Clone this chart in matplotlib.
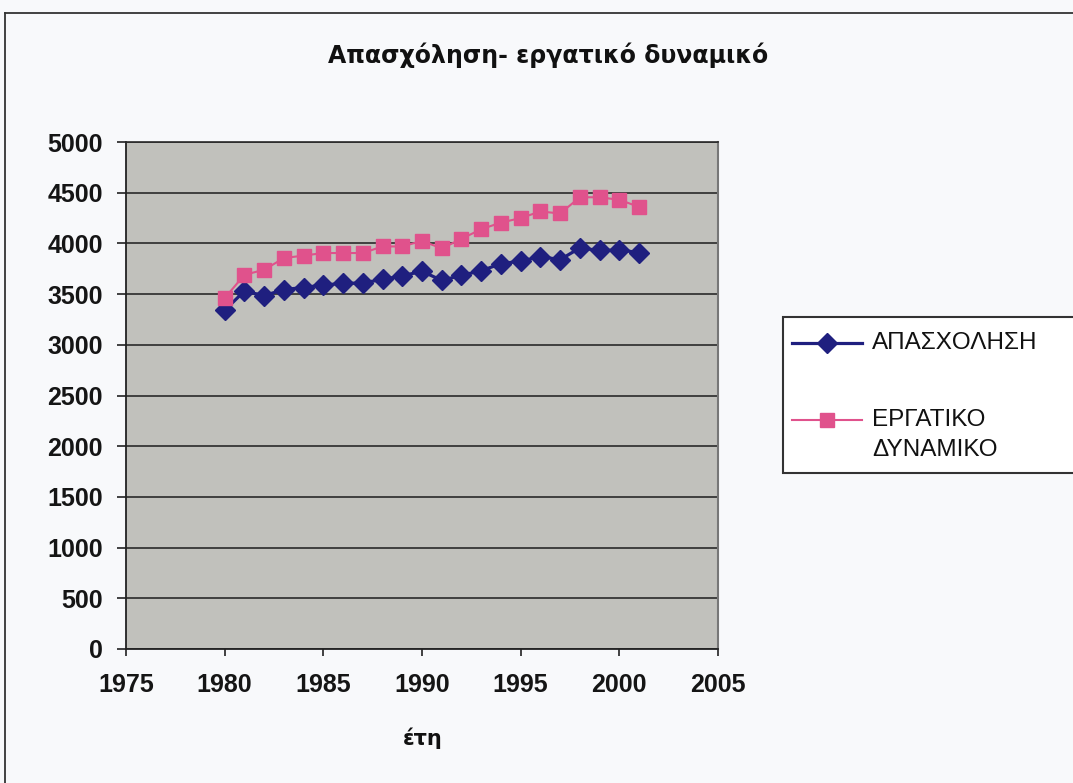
import matplotlib
matplotlib.use("Agg")
import matplotlib.pyplot as plt
from matplotlib.patches import Rectangle
from matplotlib.lines import Line2D

years = list(range(1980, 2002))
apasxolisi = [3340, 3530, 3485, 3545, 3565, 3590, 3605, 3610, 3645, 3680, 3725,
              3635, 3685, 3730, 3800, 3825, 3870, 3840, 3955, 3930, 3935, 3910]
ergatiko = [3460, 3690, 3740, 3855, 3880, 3905, 3905, 3905, 3970, 3970, 4025,
            3950, 4045, 4140, 4205, 4250, 4315, 4295, 4455, 4455, 4430, 4360]
series_names = ["ΑΠΑΣΧΟΛΗΣΗ", "ΕΡΓΑΤΙΚΟ\nΔΥΝΑΜΙΚΟ"]
x_ticks = [1975, 1980, 1985, 1990, 1995, 2000, 2005]
y_ticks = list(range(0, 5001, 500))
title = "Απασχόληση- εργατικό δυναμικό"
xlabel = "έτη"

W, H = 1073, 783


def fx(px):
    return px / W


def fy(py):
    return 1 - py / H


BLUE = "#1f1f7f"
PINK = "#e0528c"

fig = plt.figure(figsize=(W / 100, H / 100), dpi=100)
fig.patch.set_facecolor("#f8f9fb")

# outer frame (top and left edges visible)
fig.add_artist(Line2D([fx(5), 1], [fy(13), fy(13)], transform=fig.transFigure,
                      color="#333333", linewidth=1.3))
fig.add_artist(Line2D([fx(5), fx(5)], [fy(13), 0], transform=fig.transFigure,
                      color="#333333", linewidth=1.3))

ax = fig.add_axes([fx(126), fy(649), (718 - 126) / W, (649 - 142) / H])
ax.set_facecolor("#c1c1bc")
ax.plot(years, apasxolisi, color=BLUE, marker="D", markersize=10.5, linewidth=2.3)
ax.plot(years, ergatiko, color=PINK, marker="s", markersize=9.5, linewidth=1.5)
ax.set_xlim(1975, 2005)
ax.set_ylim(0, 5000)
ax.set_xticks(x_ticks)
ax.set_yticks(y_ticks)
ax.yaxis.grid(True, color="#2a2a2a", linewidth=1.2)
ax.set_axisbelow(True)
ax.spines["left"].set_color("#222222")
ax.spines["bottom"].set_color("#222222")
ax.spines["left"].set_linewidth(1.3)
ax.spines["bottom"].set_linewidth(1.3)
ax.spines["right"].set_color("#777777")
ax.spines["right"].set_linewidth(1.5)
ax.spines["top"].set_color("#2a2a2a")
ax.spines["top"].set_linewidth(1.2)
ax.tick_params(axis="y", length=6.5, width=1.2, color="#222222", pad=10, labelsize=18)
ax.tick_params(axis="x", length=5, width=1.2, color="#222222", pad=12, labelsize=18)
for lab in ax.get_xticklabels() + ax.get_yticklabels():
    lab.set_fontfamily("Liberation Sans")
    lab.set_fontweight("bold")
    lab.set_color("#151515")

fig.text(fx(423), fy(738), xlabel, ha="center", va="center",
         fontsize=15, fontweight="bold", family="DejaVu Sans", color="#111111")
fig.text(fx(548), fy(55), title, ha="center", va="center",
         fontsize=17, fontweight="bold", family="DejaVu Sans", color="#111111")

# legend box (extends past the right edge of the picture)
fig.add_artist(Rectangle((fx(783), fy(473)), (1100 - 783) / W, (473 - 317) / H,
                         transform=fig.transFigure, facecolor="white",
                         edgecolor="#333333", linewidth=1.5))
fig.add_artist(Line2D([fx(792), fx(862)], [fy(343), fy(343)], transform=fig.transFigure,
                      color=BLUE, linewidth=2.3))
fig.add_artist(Line2D([fx(827)], [fy(343)], transform=fig.transFigure, color=BLUE,
                      marker="D", markersize=10.5, linestyle="none"))
fig.add_artist(Line2D([fx(792), fx(862)], [fy(420), fy(420)], transform=fig.transFigure,
                      color=PINK, linewidth=1.5))
fig.add_artist(Line2D([fx(827)], [fy(420)], transform=fig.transFigure, color=PINK,
                      marker="s", markersize=9.5, linestyle="none"))
fig.text(fx(872), fy(343), series_names[0], ha="left", va="center",
         fontsize=17.5, family="Liberation Sans", color="#111111")
fig.text(fx(872), fy(409), series_names[1], ha="left", va="top",
         fontsize=17.5, family="Liberation Sans", color="#111111", linespacing=1.5)

fig.savefig("out.png", dpi=100, facecolor=fig.get_facecolor())
